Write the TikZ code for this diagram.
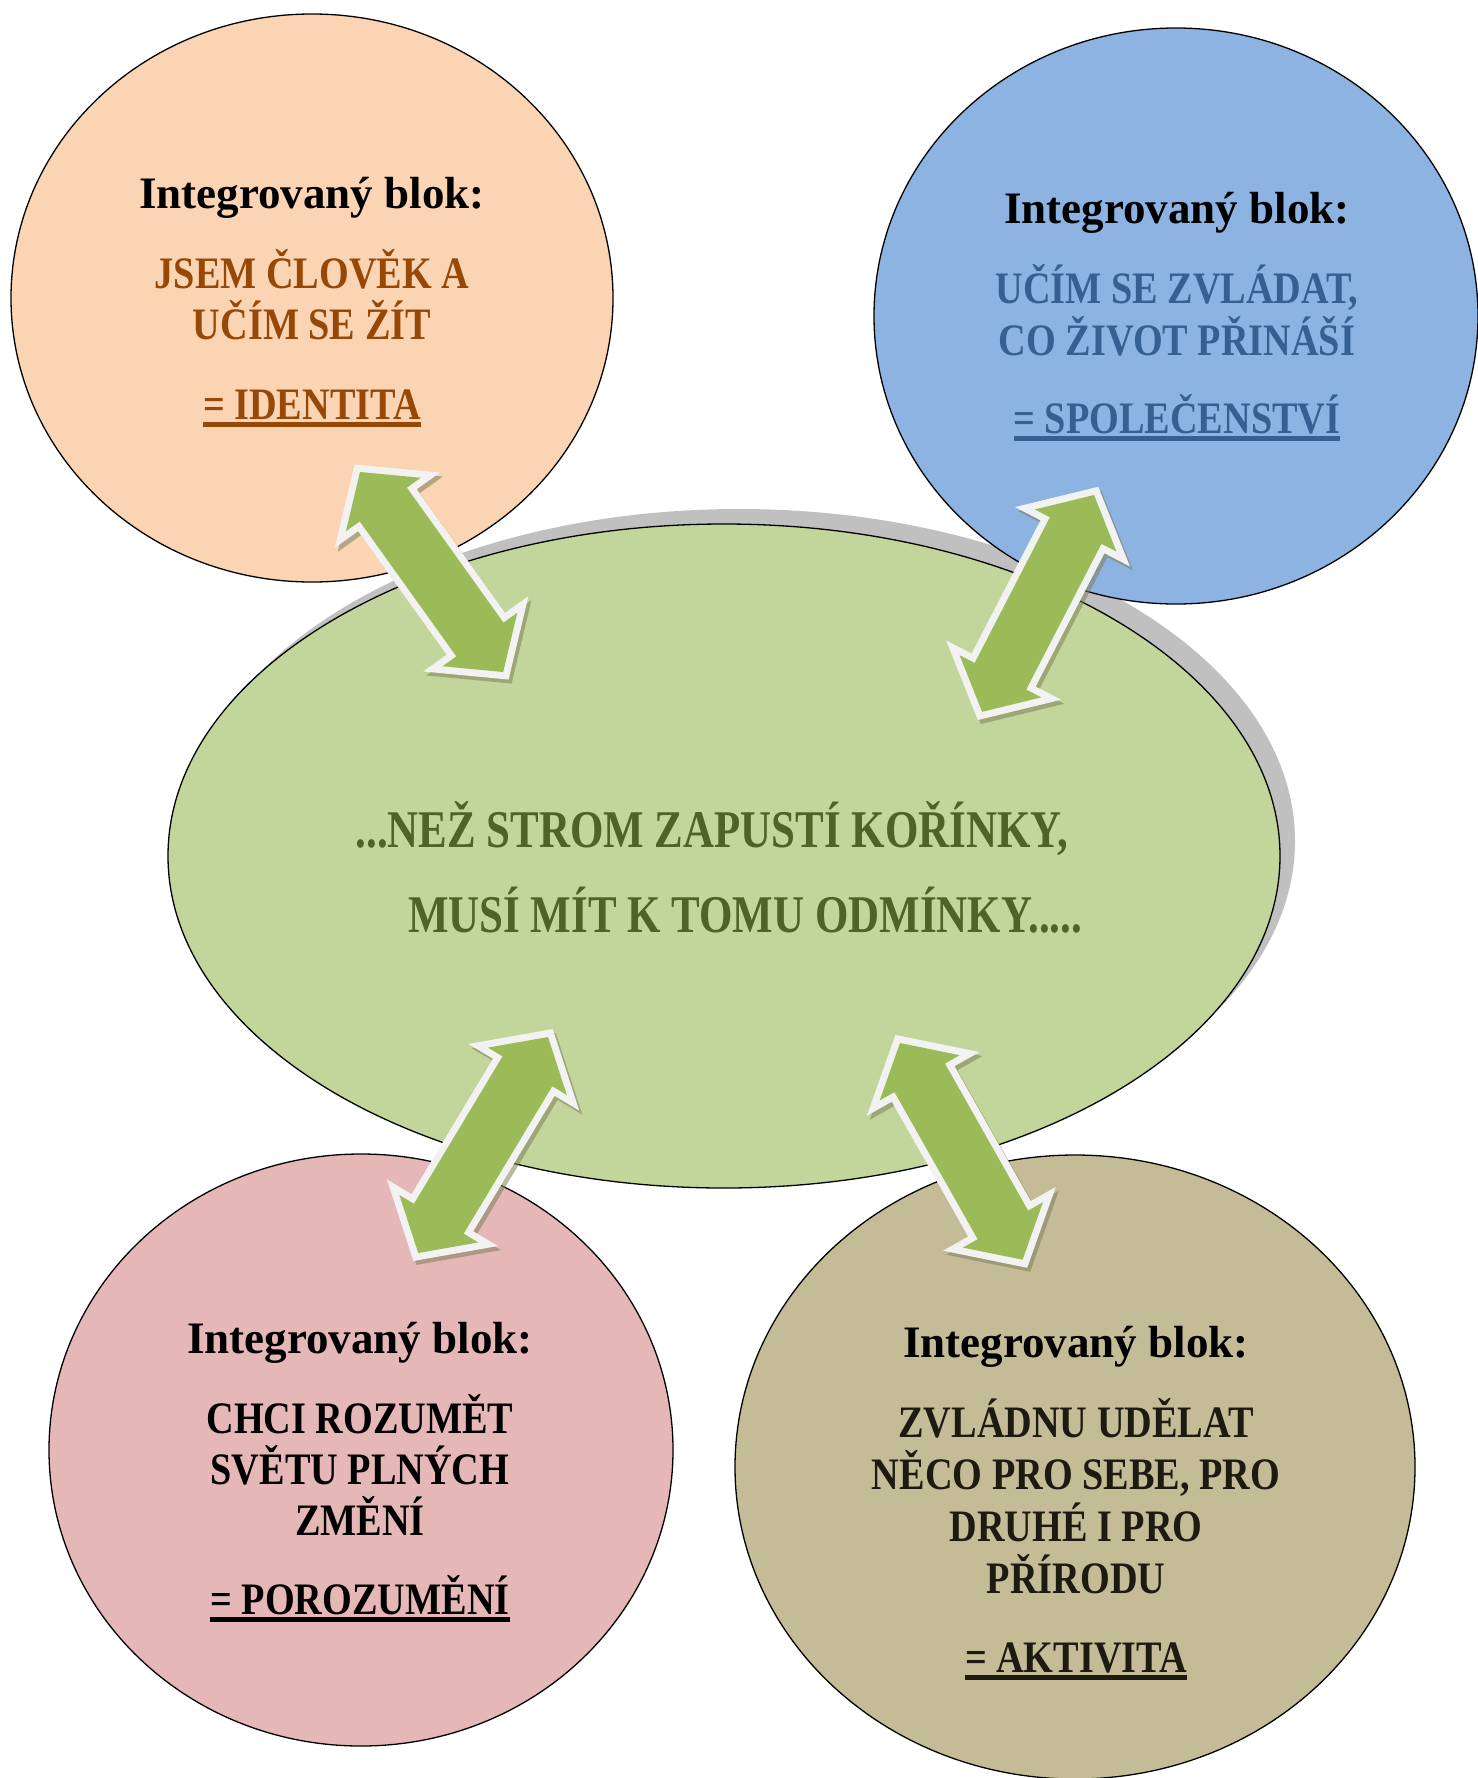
\documentclass[tikz,border=0pt]{standalone}
\usepackage{fontspec}
\setmainfont{Liberation Serif}
\newfontfamily\capf{Liberation Serif}[FakeStretch=0.85]
\newfontfamily\midf{Liberation Serif}[FakeStretch=0.81]
\usetikzlibrary{calc,shapes.geometric}
\definecolor{peachfill}{HTML}{FBD4B4}
\definecolor{bluefill}{HTML}{8DB3E2}
\definecolor{greenfill}{HTML}{C2D69B}
\definecolor{pinkfill}{HTML}{E5B8B7}
\definecolor{tanfill}{HTML}{C4BC96}
\definecolor{peachtxt}{HTML}{974806}
\definecolor{bluetxt}{HTML}{366092}
\definecolor{greentxt}{HTML}{4F6228}
\definecolor{tantxt}{HTML}{1D1B11}
\definecolor{arrgreen}{HTML}{9BBB59}
\definecolor{arrrim}{HTML}{F2F2F2}
\definecolor{arrshade}{HTML}{7F7F5A}
\definecolor{shadegray}{HTML}{C0C0C0}
\newsavebox\ulbox
\newcommand\uln[1]{\sbox\ulbox{#1}\usebox\ulbox\llap{\rule[-7.5pt]{\wd\ulbox}{4.5pt}}}
\newcommand\arrpath[1]{(0,0) -- (40,46) -- (40,29) -- (#1-40,29) -- (#1-40,46) -- (#1,0) -- (#1-40,-46) -- (#1-40,-29) -- (40,-29) -- (40,-46) -- cycle}
% #1 start coordinate, #2 angle, #3 length
\newcommand\dblarrow[3]{%
  \begin{scope}[shift={($(#1)+(3,-4)$)}, rotate=#2]
    \filldraw[arrshade, opacity=0.55, line width=14pt, line join=miter] \arrpath{#3};
  \end{scope}
  \begin{scope}[shift={(#1)}, rotate=#2]
    \draw[arrrim, line width=14pt, line join=miter] \arrpath{#3};
    \fill[arrgreen] \arrpath{#3};
  \end{scope}}
\begin{document}
\begin{tikzpicture}[x=1pt,y=1pt,
  blk/.style={ellipse, draw=black, line width=1.3pt, inner sep=0pt},
  head/.style={anchor=base, inner sep=0pt, font=\fontsize{45}{54}\selectfont\bfseries},
  caps/.style={anchor=base, inner sep=0pt, font=\capf\fontsize{45}{54}\selectfont\bfseries},
  mid/.style={anchor=base, inner sep=0pt, text=greentxt, font=\midf\fontsize{53}{60}\selectfont\bfseries}]
\useasboundingbox (0,0) rectangle (1478,-1778);
% central ellipse with shadow
\node[ellipse, fill=shadegray, minimum width=1112pt, minimum height=664pt, inner sep=0pt] (cshadow) at (739,-841) {};
\node[blk, fill=greenfill, minimum width=1112pt, minimum height=664pt] (center) at (724,-856) {};
% outer ellipses
\node[blk, fill=peachfill, minimum width=602pt, minimum height=568pt] (idn) at (312,-298) {};
\node[blk, fill=bluefill, minimum width=604pt, minimum height=576pt] (spol) at (1176,-316) {};
\node[blk, fill=pinkfill, minimum width=624pt, minimum height=592pt] (poro) at (361,-1450) {};
\node[blk, fill=tanfill, minimum width=680pt, minimum height=624pt] (akt) at (1075,-1467) {};
% texts: peach
\node[head] (h1) at (312,-208) {Integrovaný blok:};
\node[caps, text=peachtxt] (p1) at (312,-288) {JSEM ČLOVĚK A};
\node[caps, text=peachtxt] (p2) at (312,-339) {UČÍM SE ŽÍT};
\node[caps, text=peachtxt] (p3) at (312,-419) {\uln{= IDENTITA}};
% blue
\node[head] (h2) at (1177,-223) {Integrovaný blok:};
\node[caps, text=bluetxt] (b1) at (1177,-303) {UČÍM SE ZVLÁDAT,};
\node[caps, text=bluetxt] (b2) at (1177,-355) {CO ŽIVOT PŘINÁŠÍ};
\node[caps, text=bluetxt] (b3) at (1177,-433) {\uln{= SPOLEČENSTVÍ}};
% center
\node[mid] (m1) at (712,-847) {...NEŽ STROM ZAPUSTÍ KOŘÍNKY,};
\node[mid] (m2) at (745,-932) {MUSÍ MÍT K TOMU ODMÍNKY.....};
% pink
\node[head] (h3) at (360,-1353) {Integrovaný blok:};
\node[caps] (r1) at (360,-1433) {CHCI ROZUMĚT};
\node[caps] (r2) at (360,-1484) {SVĚTU PLNÝCH};
\node[caps] (r3) at (360,-1535) {ZMĚNÍ};
\node[caps] (r4) at (360,-1614) {\uln{= POROZUMĚNÍ}};
% tan
\node[head] (h4) at (1076,-1357) {Integrovaný blok:};
\node[caps, text=tantxt] (k1) at (1076,-1437) {ZVLÁDNU UDĚLAT};
\node[caps, text=tantxt] (k2) at (1076,-1489) {NĚCO PRO SEBE, PRO};
\node[caps, text=tantxt] (k3) at (1076,-1541) {DRUHÉ I PRO};
\node[caps, text=tantxt] (k4) at (1076,-1593) {PŘÍRODU};
\node[caps, text=tantxt] (k5) at (1076,-1672) {\uln{= AKTIVITA}};
% arrows
\coordinate (a1s) at (360,-472);
\coordinate (a2s) at (1094,-495);
\coordinate (a3s) at (548,-1037);
\coordinate (a4s) at (900,-1043);
\dblarrow{a1s}{-54.4}{246}
\dblarrow{a2s}{-117.3}{244}
\dblarrow{a3s}{-121.0}{252}
\dblarrow{a4s}{-60.5}{249}
\end{tikzpicture}
\end{document}
